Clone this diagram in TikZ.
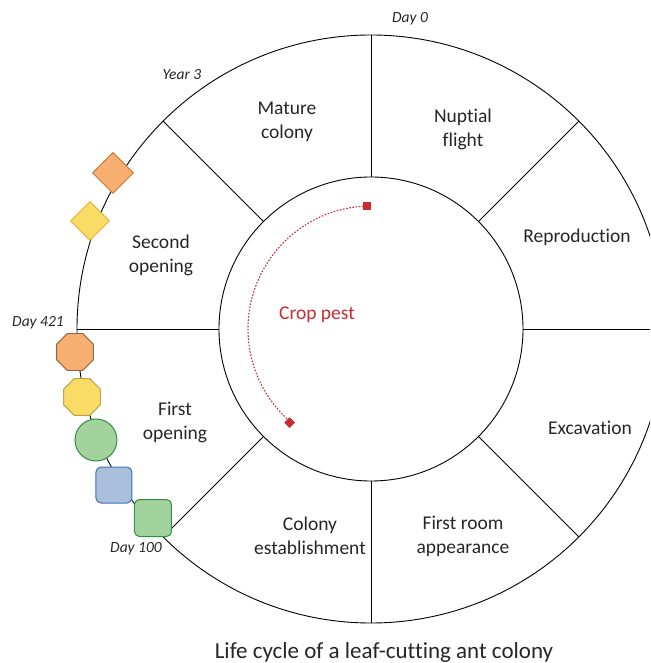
\documentclass[tikz,border=0pt]{standalone}
\usepackage{fontspec}
\setmainfont{Carlito}[Ligatures=NoCommon]
\usetikzlibrary{shapes.geometric}
\definecolor{orfill}{HTML}{F8AF72}
\definecolor{ordraw}{HTML}{CD7A32}
\definecolor{yefill}{HTML}{FADB66}
\definecolor{yedraw}{HTML}{E8B53A}
\definecolor{grfill}{HTML}{A3D39C}
\definecolor{grdraw}{HTML}{2F8F45}
\definecolor{blfill}{HTML}{A7BFDA}
\definecolor{bldraw}{HTML}{3F72B5}
\definecolor{pestred}{HTML}{CC2B30}

\begin{document}
\begin{tikzpicture}[x=1pt,y=1pt,line width=0.9pt,
  phase/.style={align=center,text=black!85,font=\fontsize{19.5}{24}\selectfont},
  daytag/.style={text=black!85,font=\itshape\fontsize{15.5}{18}\selectfont},
  stage/.style={draw,line width=1pt,inner sep=0pt}]
  \useasboundingbox (-371,-334) rectangle (279,329);
  \clip (-371,-334) rectangle (279,329);
  % anillo: circulos y divisiones
  \draw (0,0) circle(294);
  \draw (0,0) circle(152);
  \foreach \a in {0,45,...,315} \draw (\a:152)--(\a:294);
  % fases
  \node[phase] (mature) at (-84,207) {Mature\\colony};
  \node[phase] (nuptial) at (92,200) {Nuptial\\flight};
  \node[phase] (repro) at (206,92) {Reproduction};
  \node[phase] (excav) at (219,-99) {Excavation};
  \node[phase] (room) at (92,-207) {First room\\appearance};
  \node[phase] (establish) at (-61,-207) {Colony\\establishment};
  \node[phase] (first) at (-196,-93) {First\\opening};
  \node[phase] (second) at (-210,74) {Second\\opening};
  % marcas de tiempo
  \node[daytag] (day0) at (39,310) {Day 0};
  \node[daytag] (year3) at (-189,254) {Year 3};
  \node[daytag] (day421) at (-333,6) {Day 421};
  \node[daytag] (day100) at (-235,-220) {Day 100};
  % etapas sobre el borde
  \node[stage,diamond,fill=orfill,draw=ordraw,minimum size=41] (s1) at (-258,156) {};
  \node[stage,diamond,fill=yefill,draw=yedraw,minimum size=39] (s2) at (-281,108) {};
  \node[stage,regular polygon,regular polygon sides=8,fill=orfill,draw=black!40!orfill,minimum size=40] (s3) at (-296,-23) {};
  \node[stage,regular polygon,regular polygon sides=8,fill=yefill,draw=black!25!yefill,minimum size=40] (s4) at (-289,-68) {};
  \node[stage,circle,fill=grfill,draw=grdraw,minimum size=42] (s5) at (-275,-111) {};
  \node[stage,rectangle,rounded corners=5,fill=blfill,draw=bldraw,minimum size=36] (s6) at (-257,-156) {};
  \node[stage,rectangle,rounded corners=5,fill=grfill,draw=grdraw,minimum size=37] (s7) at (-218,-189) {};
  % plaga
  \node[fill=pestred,inner sep=0pt,minimum size=8] (pestA) at (92:123) {};
  \node[fill=pestred,diamond,inner sep=0pt,minimum size=11] (pestB) at (229:124) {};
  \draw[pestred,line width=1.1pt,dash pattern=on 1.6pt off 1.6pt] (pestA.center) arc[start angle=92,end angle=229,radius=123];
  \node[text=pestred,font=\fontsize{19.5}{24}\selectfont] (pest) at (-54,14) {Crop pest};
  % titulo
  \node[anchor=base,text=black!85,font=\fontsize{23}{27}\selectfont] (title) at (13,-329) {Life cycle of a leaf-cutting ant colony};
\end{tikzpicture}
\end{document}
